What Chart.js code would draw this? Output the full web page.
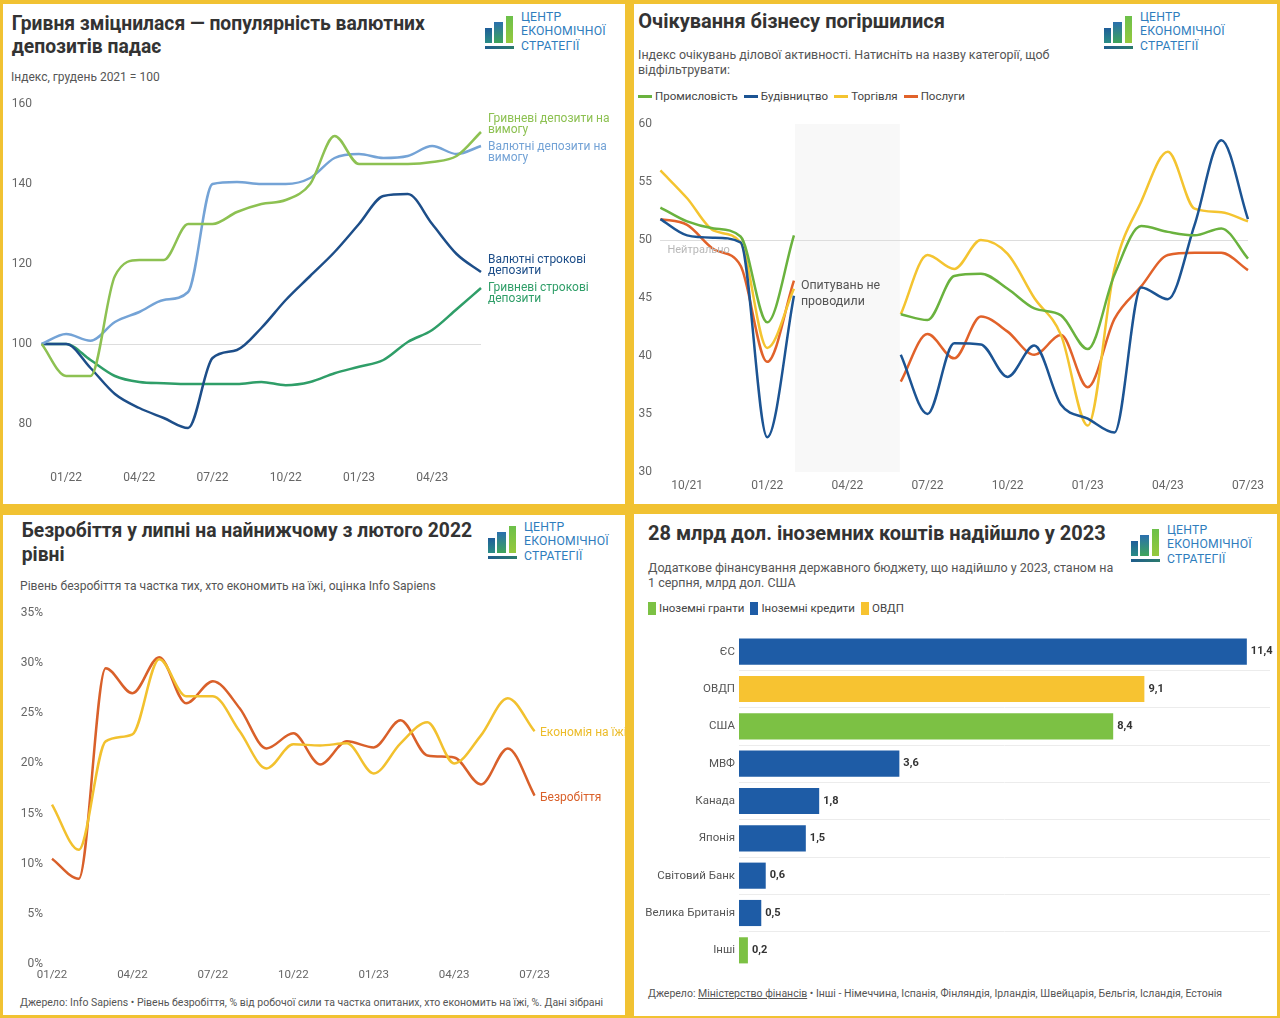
<!DOCTYPE html>
<html><head><meta charset="utf-8">
<script src="https://cdn.jsdelivr.net/npm/chart.js@4.4.0/dist/chart.umd.min.js"></script>
<style>
html,body{margin:0;padding:0;}
body{width:1280px;height:1018px;background:#f1c232;position:relative;overflow:hidden;font-family:Roboto,"Noto Sans",sans-serif;}
.panel{position:absolute;background:#fff;overflow:hidden;}
.title{position:absolute;font-weight:700;font-size:19.3px;line-height:23.5px;color:#333;white-space:nowrap;}
.sub{position:absolute;font-size:12px;line-height:14.5px;color:#555;white-space:nowrap;}
.src{position:absolute;font-size:10.5px;line-height:13px;color:#555;white-space:nowrap;}
canvas{position:absolute;}
.logo{position:absolute;width:135px;height:40px;}
.logo .b{position:absolute;}
.logo .t{position:absolute;left:36px;top:-6.5px;font-size:12.2px;line-height:14.5px;color:#2f7dbd;letter-spacing:0.2px;white-space:nowrap;}
.legend{position:absolute;display:flex;align-items:center;font-size:11.5px;color:#444;white-space:nowrap;}
.legend .li{display:flex;align-items:center;margin-right:6px;}
.legend .ln{display:inline-block;width:14px;height:3px;margin-right:3px;}
.legend .sq{display:inline-block;width:8px;height:13px;margin-right:3px;}
</style>
</head><body>

<div class="panel" id="p1" style="left:3px;top:4px;width:622px;height:500px">
  <div class="title" style="left:8.7px;top:7.7px">Гривня зміцнилася — популярність валютних<br>депозитів падає</div>
  <div class="sub" style="left:8px;top:66.4px">Індекс, грудень 2021 = 100</div>
  <div class="logo" style="left:482px;top:12px"></div>
  <canvas id="c1" width="615" height="416" style="left:0;top:80px"></canvas>
</div>

<div class="panel" id="p2" style="left:634px;top:4px;width:643px;height:500px">
  <div class="title" style="left:4.3px;top:6.2px;font-size:20px;line-height:23px">Очікування бізнесу погіршилися</div>
  <div class="sub" style="left:4px;top:44px;line-height:14.5px;font-size:12.45px">Індекс очікувань ділової активності. Натисніть на назву категорії, щоб<br>відфільтрувати:</div>
  <div class="legend" style="left:4px;top:85px">
    <span class="li"><i class="ln" style="background:#6ab23e"></i>Промисловість</span>
    <span class="li"><i class="ln" style="background:#1c5493"></i>Будівництво</span>
    <span class="li"><i class="ln" style="background:#f4c430"></i>Торгівля</span>
    <span class="li"><i class="ln" style="background:#e1622a"></i>Послуги</span>
  </div>
  <div class="logo" style="left:470px;top:12px"></div>
  <canvas id="c2" width="643" height="398" style="left:0;top:98px"></canvas>
</div>

<div class="panel" id="p3" style="left:3px;top:515px;width:622px;height:500px">
  <div class="title" style="left:18.7px;top:4.2px">Безробіття у липні на найнижчому з лютого 2022<br>рівні</div>
  <div class="sub" style="left:17px;top:64px;font-size:12.1px">Рівень безробіття та частка тих, хто економить на їжі, оцінка Info Sapiens</div>
  <div class="logo" style="left:485px;top:11px"></div>
  <canvas id="c3" width="622" height="402" style="left:0;top:78px"></canvas>
  <div class="src" style="left:17px;top:481px">Джерело: Info Sapiens • Рівень безробіття, % від робочої сили та частка опитаних, хто економить на їжі, %. Дані зібрані</div>
</div>

<div class="panel" id="p4" style="left:634px;top:514px;width:643px;height:502px">
  <div class="title" style="left:14px;top:8px;font-size:20px;line-height:23px">28 млрд дол. іноземних коштів надійшло у 2023</div>
  <div class="sub" style="left:14px;top:45.5px;font-size:12.5px;line-height:15px">Додаткове фінансування державного бюджету, що надійшло у 2023, станом на<br>1 серпня, млрд дол. США</div>
  <div class="legend" style="left:14px;top:87px">
    <span class="li"><i class="sq" style="background:#7cc144"></i>Іноземні гранти</span>
    <span class="li"><i class="sq" style="background:#1e5ca6"></i>Іноземні кредити</span>
    <span class="li"><i class="sq" style="background:#f7c331"></i>ОВДП</span>
  </div>
  <div class="logo" style="left:497px;top:15px"></div>
  <canvas id="c4" width="643" height="364" style="left:0;top:105px"></canvas>
  <div class="src" style="left:14px;top:473px">Джерело: <span style="text-decoration:underline">Міністерство фінансів</span> • Інші - Німеччина, Іспанія, Фінляндія, Ірландія, Швейцарія, Бельгія, Ісландія, Естонія</div>
</div>

<script>
// ---------- DATA ----------
// Chart 1: deposits index (Dec 2021 = 100)
const depMonths = ['12/21','01/22','02/22','03/22','04/22','05/22','06/22','07/22','08/22','09/22','10/22','11/22','12/22','01/23','02/23','03/23','04/23','05/23','06/23'];
const depTicks = ['01/22','04/22','07/22','10/22','01/23','04/23'];
const depYTicks = [80, 100, 120, 140, 160];
const uahDemand = [100, 92, 92, 117, 121, 121, 130, 130, 133, 135, 136, 140, 152, 145, 145, 145, 145.5, 147, 153];
const fxDemand  = [100, 102.5, 100.8, 105.5, 108, 111, 113, 140, 140.5, 140, 140, 141.5, 146.5, 147.5, 146.5, 147, 149.5, 147.5, 149.5];
const fxTerm    = [100, 100, 94, 87.5, 84, 81.5, 79, 96.5, 98.5, 104, 111, 117, 123, 130, 137, 137.5, 130, 122.5, 118];
const uahTerm   = [100, 100, 96, 92, 90.5, 90.2, 90, 90, 90, 90.5, 89.7, 90.5, 92.7, 94.3, 96, 100.5, 103.5, 108.7, 114];

// Chart 2: business expectations index
const bizMonths = ['09/21','10/21','11/21','12/21','01/22','02/22','03/22','04/22','05/22','06/22','07/22','08/22','09/22','10/22','11/22','12/22','01/23','02/23','03/23','04/23','05/23','06/23','07/23'];
const bizTicks = ['10/21','01/22','04/22','07/22','10/22','01/23','04/23','07/23'];
const industry     = [52.8, 51.6, 51.0, 50.3, 42.9, 50.4, null, null, null, 43.6, 43.1, 46.9, 47.1, 45.8, 44.1, 43.5, 40.6, 47.0, 51.2, 50.7, 50.4, 51.0, 48.4];
const construction = [51.8, 50.4, 50.2, 49.8, 33.0, 45.2, null, null, null, 40.1, 35.0, 41.1, 41.0, 38.2, 40.9, 35.8, 34.6, 33.4, 45.9, 44.9, 51.3, 58.6, 51.8];
const trade        = [56.0, 53.6, 50.8, 49.8, 40.7, 45.8, null, null, null, 43.6, 48.7, 47.5, 50.0, 48.8, 45.0, 41.8, 34.0, 47.5, 53.3, 57.6, 52.7, 52.4, 51.6];
const services     = [51.8, 51.3, 49.2, 47.8, 39.5, 46.5, null, null, null, 37.8, 41.9, 39.8, 43.4, 42.1, 40.1, 41.8, 37.3, 43.2, 46.0, 48.7, 48.9, 48.9, 47.4];

// Chart 3: unemployment and food saving, %
const jobMonths = ['01/22','02/22','03/22','04/22','05/22','06/22','07/22','08/22','09/22','10/22','11/22','12/22','01/23','02/23','03/23','04/23','05/23','06/23','07/23'];
const jobTicks = ['01/22','04/22','07/22','10/22','01/23','04/23','07/23'];
const unemployment = [10.5, 8.5, 29.5, 27.0, 30.6, 26.0, 28.2, 25.5, 21.5, 23.0, 19.9, 22.2, 21.6, 24.3, 20.8, 20.6, 17.9, 21.5, 16.8];
const foodSaving   = [15.9, 11.4, 22.2, 22.9, 30.4, 26.7, 26.7, 23.2, 19.5, 21.9, 21.8, 22.0, 19.0, 22.0, 24.1, 20.0, 22.8, 26.5, 23.2];

// Chart 4: foreign financing 2023, bn USD
const donors = ['ЄС','ОВДП','США','МВФ','Канада','Японія','Світовий Банк','Велика Британія','Інші'];
const funding = [11.4, 9.1, 8.4, 3.6, 1.8, 1.5, 0.6, 0.5, 0.2];
const fundingType = ['Іноземні кредити','ОВДП','Іноземні гранти','Іноземні кредити','Іноземні кредити','Іноземні кредити','Іноземні кредити','Іноземні кредити','Іноземні гранти'];

// ---------- STYLE ----------
const typeColors = {'Іноземні гранти':'#7cc144','Іноземні кредити':'#1e5ca6','ОВДП':'#f7c331'};
const FONT = 'Roboto, "Noto Sans", sans-serif';
Chart.defaults.font.family = FONT;
Chart.defaults.animation = false;

// logos
document.querySelectorAll('.logo').forEach(el => {
  el.innerHTML =
    '<div class="b" style="left:0;top:12px;width:7px;height:15px;background:linear-gradient(#1f5d99,#2a8d86)"></div>' +
    '<div class="b" style="left:9px;top:6px;width:9px;height:21px;background:linear-gradient(#2a6fae,#3fa55a)"></div>' +
    '<div class="b" style="left:21px;top:0;width:7px;height:27px;background:linear-gradient(#6cc04a,#96c93d)"></div>' +
    '<div class="b" style="left:0;top:30px;width:29px;height:3px;background:linear-gradient(90deg,#1f5d8c,#2b7a6c)"></div>' +
    '<div class="t">ЦЕНТР<br>ЕКОНОМІЧНОЇ<br>СТРАТЕГІЇ</div>';
});

function endLabels(items, dx, lh, font) {
  return {
    id: 'endLabels',
    afterDatasetsDraw(chart) {
      const ctx = chart.ctx;
      ctx.save();
      ctx.font = font; ctx.textBaseline = 'middle'; ctx.textAlign = 'left';
      items.forEach((it, di) => {
        const pts = chart.getDatasetMeta(di).data;
        let p = null;
        for (let k = pts.length - 1; k >= 0; k--) { if (!pts[k].skip) { p = pts[k]; break; } }
        if (!p) return;
        ctx.fillStyle = it.color;
        it.lines.forEach((t, i) => ctx.fillText(t, p.x + dx, p.y + it.dy + i * lh));
      });
      ctx.restore();
    }
  };
}

const noPts = {point:{radius:0}, line:{borderWidth:2.5, cubicInterpolationMode:'monotone'}};
const off = {legend:{display:false}, tooltip:{enabled:false}};

// ---------- CHART 1 ----------
const c1Colors = ['#8dc152','#74a3d6','#1d4e89','#2f9e68'];
new Chart(document.getElementById('c1'), {
  type: 'line',
  data: { labels: depMonths, datasets: [
    {data: uahDemand, borderColor: c1Colors[0]},
    {data: fxDemand, borderColor: c1Colors[1]},
    {data: fxTerm, borderColor: c1Colors[2]},
    {data: uahTerm, borderColor: c1Colors[3]}
  ]},
  options: {
    responsive: false, animation: false, elements: noPts, plugins: off,
    layout: {padding: {top: 20, right: 137, bottom: 0, left: 0}},
    scales: {
      x: {grid: {display: false, drawTicks: false}, border: {display: false},
          ticks: {autoSkip: false, maxRotation: 0, padding: 6.8, color: '#666', font: {size: 12},
                  callback: (v, i) => depTicks.includes(depMonths[i]) ? depMonths[i] : ''},
          afterFit: s => { s.height = 36; }},
      y: {min: 70, max: 160,
          afterBuildTicks: s => { s.ticks = depYTicks.map(v => ({value: v})); },
          grid: {drawTicks: false, color: c => (c.tick && c.tick.value === 100) ? '#dddddd' : 'rgba(0,0,0,0)'},
          border: {display: false},
          ticks: {padding: 9.7, color: '#666', font: {size: 12}},
          afterFit: s => { s.width = 38.7; }}
    }
  },
  plugins: [endLabels([
    {lines: ['Гривневі депозити на', 'вимогу'], color: c1Colors[0], dy: -13},
    {lines: ['Валютні депозити на', 'вимогу'], color: c1Colors[1], dy: 1},
    {lines: ['Валютні строкові', 'депозити'], color: c1Colors[2], dy: -12},
    {lines: ['Гривневі строкові', 'депозити'], color: c1Colors[3], dy: 0}
  ], 7, 11, '12px ' + FONT)]
});

// ---------- CHART 2 ----------
const gapShade = {
  id: 'gapShade',
  beforeDraw(chart) {
    const d = chart.data.datasets[0].data;
    const first = d.indexOf(null);
    let last = first; while (d[last + 1] === null) last++;
    const xs = chart.scales.x, a = chart.chartArea, ctx = chart.ctx;
    const x0 = xs.getPixelForValue(first - 1), x1 = xs.getPixelForValue(last + 1);
    ctx.save();
    ctx.fillStyle = '#f8f8f8';
    ctx.fillRect(x0 + 1, a.top, x1 - x0 - 2, a.bottom - a.top);
    ctx.restore();
  },
  afterDatasetsDraw(chart) {
    const d = chart.data.datasets[0].data;
    const first = d.indexOf(null);
    const xs = chart.scales.x, ys = chart.scales.y, a = chart.chartArea, ctx = chart.ctx;
    const y50 = ys.getPixelForValue(50);
    ctx.save();
    ctx.textAlign = 'left'; ctx.textBaseline = 'middle';
    ctx.font = '11px ' + FONT; ctx.fillStyle = '#b8b8b8';
    ctx.fillText('Нейтрально', a.left + 7, y50 + 10);
    ctx.font = '12.4px ' + FONT; ctx.fillStyle = '#555';
    const tx = xs.getPixelForValue(first - 1) + 7;
    ctx.fillText('Опитувань не', tx, y50 + 46);
    ctx.fillText('проводили', tx, y50 + 62);
    ctx.restore();
  }
};
new Chart(document.getElementById('c2'), {
  type: 'line',
  data: { labels: bizMonths, datasets: [
    {data: industry, borderColor: '#6ab23e'},
    {data: construction, borderColor: '#1c5493'},
    {data: trade, borderColor: '#f4c430'},
    {data: services, borderColor: '#e1622a'}
  ]},
  options: {
    responsive: false, animation: false, elements: noPts, plugins: off, spanGaps: false,
    layout: {padding: {top: 22, right: 29, bottom: 0, left: 0}},
    scales: {
      x: {grid: {display: false, drawTicks: false}, border: {display: false},
          ticks: {autoSkip: false, maxRotation: 0, padding: 6.8, color: '#666', font: {size: 12},
                  callback: (v, i) => bizTicks.includes(bizMonths[i]) ? bizMonths[i] : ''},
          afterFit: s => { s.height = 28; }},
      y: {min: 30, max: 60,
          ticks: {stepSize: 5, padding: 8.4, color: '#666', font: {size: 12}},
          grid: {drawTicks: false, color: c => (c.tick && c.tick.value === 50) ? '#dddddd' : 'rgba(0,0,0,0)'},
          border: {display: false},
          afterFit: s => { s.width = 26.4; }}
    }
  },
  plugins: [gapShade]
});

// ---------- CHART 3 ----------
new Chart(document.getElementById('c3'), {
  type: 'line',
  data: { labels: jobMonths, datasets: [
    {data: foodSaving, borderColor: '#f2c12e'},
    {data: unemployment, borderColor: '#d9602a'}
  ]},
  options: {
    responsive: false, animation: false, elements: noPts, plugins: off,
    layout: {padding: {top: 20, right: 90.4, bottom: 0, left: 0}},
    scales: {
      x: {grid: {display: false, drawTicks: false}, border: {display: false},
          ticks: {autoSkip: false, maxRotation: 0, padding: 3.8, color: '#666', font: {size: 11.5},
                  callback: (v, i) => jobTicks.includes(jobMonths[i]) ? jobMonths[i] : ''},
          afterFit: s => { s.height = 31; }},
      y: {min: 0, max: 35,
          ticks: {stepSize: 5, padding: 9, color: '#666', font: {size: 12}, callback: v => v + '%'},
          grid: {display: false, drawTicks: false}, border: {display: false},
          afterFit: s => { s.width = 49; }}
    }
  },
  plugins: [endLabels([
    {lines: ['Економія на їжі'], color: '#ecbc2a', dy: 1.5},
    {lines: ['Безробіття'], color: '#d9602a', dy: 2.5}
  ], 5.4, 12, '12px ' + FONT)]
});

// ---------- CHART 4 ----------
const valueLabels = {
  id: 'valueLabels',
  afterDatasetsDraw(chart) {
    const ctx = chart.ctx;
    ctx.save();
    ctx.font = 'bold 11px ' + FONT; ctx.fillStyle = '#333';
    ctx.textAlign = 'left'; ctx.textBaseline = 'middle';
    chart.getDatasetMeta(0).data.forEach((bar, i) => {
      ctx.fillText(funding[i].toFixed(1).replace('.', ','), bar.x + 4, bar.y);
    });
    ctx.restore();
  }
};
new Chart(document.getElementById('c4'), {
  type: 'bar',
  data: { labels: donors, datasets: [{
    data: funding, backgroundColor: fundingType.map(t => typeColors[t]),
    categoryPercentage: 1, barPercentage: 0.7
  }]},
  options: {
    indexAxis: 'y', responsive: false, animation: false, plugins: off,
    layout: {padding: {top: 14, right: 7, bottom: 14, left: 0}},
    scales: {
      x: {display: false, min: 0, max: 11.92},
      y: {grid: {drawTicks: false, offset: true,
                 color: c => (c.index > 0 && c.index < donors.length) ? '#ececec' : 'rgba(0,0,0,0)'},
          border: {display: false},
          ticks: {padding: 4, color: '#555', font: {size: 11.5}},
          afterFit: s => { s.width = 105; }}
    }
  },
  plugins: [valueLabels]
});
</script>
</body></html>
